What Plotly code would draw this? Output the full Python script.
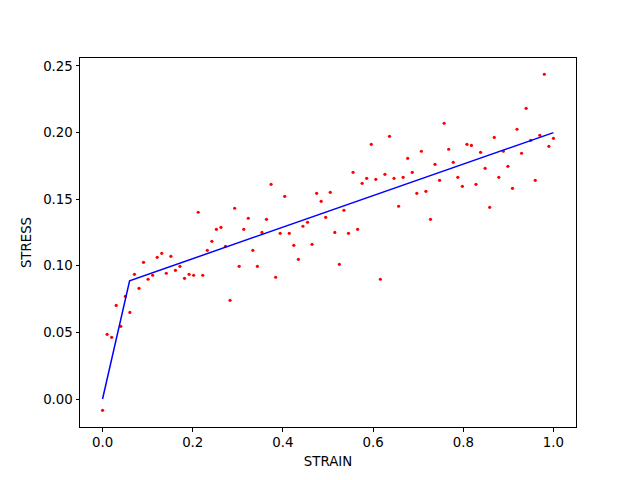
import numpy as np
import plotly.graph_objects as go

strain = [i / 99 for i in range(100)]
stress = [
    -0.0085, 0.0486, 0.0463, 0.0703, 0.0546, 0.0770, 0.0650, 0.0936, 0.0831, 0.1026,
    0.0899, 0.0929, 0.1064, 0.1094, 0.0944, 0.1071, 0.0966, 0.0996, 0.0906, 0.0936,
    0.0929, 0.1402, 0.0929, 0.1116, 0.1184, 0.1274, 0.1289, 0.1146, 0.0741, 0.1432,
    0.0996, 0.1274, 0.1357, 0.1116, 0.0996, 0.1251, 0.1349, 0.1612, 0.0914, 0.1244,
    0.1522, 0.1244, 0.1154, 0.1049, 0.1297, 0.1327, 0.1161, 0.1544, 0.1484, 0.1364,
    0.1552, 0.1251, 0.1011, 0.1417, 0.1244, 0.1702, 0.1274, 0.1619, 0.1657, 0.1912,
    0.1649, 0.0899, 0.1687, 0.1972, 0.1657, 0.1447, 0.1664, 0.1807, 0.1702, 0.1544,
    0.1860, 0.1559, 0.1349, 0.1762, 0.1642, 0.2070, 0.1875, 0.1777, 0.1664, 0.1597,
    0.1912, 0.1904, 0.1612, 0.1852, 0.1732, 0.1439, 0.1964, 0.1664, 0.1860, 0.1747,
    0.1582, 0.2025, 0.1845, 0.2182, 0.1942, 0.1642, 0.1980, 0.2438, 0.1897, 0.1957,
]
fit_x = [0.0, 0.06, 1.0]
fit_y = [0.0, 0.0888, 0.2]

xticks = [0.0, 0.2, 0.4, 0.6, 0.8, 1.0]
yticks = [0.00, 0.05, 0.10, 0.15, 0.20, 0.25]

fig = go.Figure()
fig.add_trace(go.Scatter(x=strain, y=stress, mode="markers",
                         marker=dict(color="red", size=3.2, line=dict(width=0)),
                         showlegend=False))
fig.add_trace(go.Scatter(x=fit_x, y=fit_y, mode="lines",
                         line=dict(color="blue", width=1.5), showlegend=False))

font = dict(family="DejaVu Sans", size=13.33, color="black")
axis_common = dict(showgrid=False, zeroline=False, showline=True, linecolor="black",
                   linewidth=1, mirror=True, ticks="outside", ticklen=3.5,
                   tickwidth=1, tickcolor="black", tickfont=font)
fig.update_layout(
    width=640, height=480,
    margin=dict(l=80, r=64, t=58, b=53),
    paper_bgcolor="white", plot_bgcolor="white",
    xaxis=dict(range=[-0.05, 1.05], tickvals=xticks,
               ticktext=[f"{v:.1f}" for v in xticks],
               title=dict(text="STRAIN", font=font, standoff=7), **axis_common),
    yaxis=dict(range=[-0.021, 0.256], tickvals=yticks,
               ticktext=[f"{v:.2f}" for v in yticks],
               title=dict(text="STRESS", font=font, standoff=8), **axis_common),
)
fig.write_html("out.html")
